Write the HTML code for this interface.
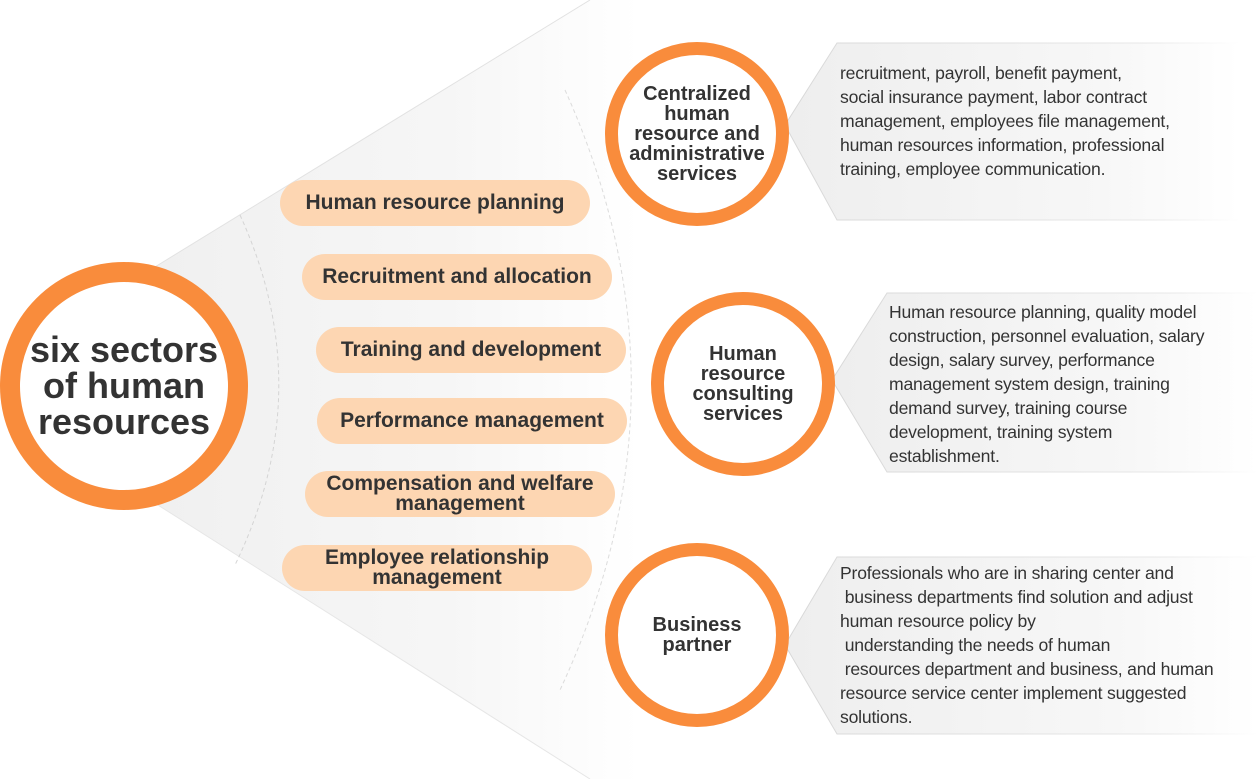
<!DOCTYPE html>
<html><head><meta charset="utf-8"><style>
body{margin:0;width:1258px;height:779px;overflow:hidden;background:#fff;font-family:"Liberation Sans",sans-serif}
.pill{position:absolute;height:46px;border-radius:23px;background:#fdd6b2;color:#333;font-weight:bold;font-size:21px;display:flex;align-items:center;justify-content:center;text-align:center;line-height:20px;width:310px}
.circ{position:absolute;border-radius:50%;border:13px solid #f98c3c;background:#fff;color:#333;font-weight:bold;display:flex;align-items:center;justify-content:center;text-align:center;box-sizing:border-box}
.txt{position:absolute;font-size:17.6px;line-height:24px;color:#333;white-space:pre;letter-spacing:-0.2px}
</style></head><body>
<svg width="1258" height="779" style="position:absolute;left:0;top:0">
<defs>
<linearGradient id="g" x1="0" x2="1" y1="0" y2="0"><stop offset="0" stop-color="#f0f0f0"/><stop offset="0.6" stop-color="#f6f6f6"/><stop offset="1" stop-color="#fff"/></linearGradient>
<linearGradient id="b" x1="0" x2="1" y1="0" y2="0"><stop offset="0" stop-color="#eeeeee"/><stop offset="0.7" stop-color="#f7f7f7"/><stop offset="1" stop-color="#fff"/></linearGradient>
<linearGradient id="s" x1="0" x2="1" y1="0" y2="0"><stop offset="0" stop-color="#d8d8d8"/><stop offset="0.8" stop-color="#e8e8e8"/><stop offset="1" stop-color="#fff"/></linearGradient>
</defs>
<polygon points="150,270 590,0 640,0 640,779 590,779 150,500" fill="url(#g)"/>
<line x1="150" y1="270" x2="590" y2="0" stroke="#e2e2e2"/>
<line x1="150" y1="500" x2="590" y2="779" stroke="#e6e6e6"/>
<path d="M240,215 Q320,390 235,565" fill="none" stroke="#d4d4d4" stroke-dasharray="4,3"/>
<path d="M565,90 Q700,390 560,690" fill="none" stroke="#dcdcdc" stroke-dasharray="4,3"/>
<polygon points="837,43 1240,43 1240,220 837,220 785,125" fill="url(#b)"/>
<polyline points="1240,43 837,43 785,125 837,220 1240,220" fill="none" stroke="url(#s)"/>
<polygon points="887,293 1258,293 1258,472 887,472 832,380" fill="url(#b)"/>
<polyline points="1258,293 887,293 832,380 887,472 1258,472" fill="none" stroke="url(#s)"/>
<polygon points="837,557 1258,557 1258,734 837,734 785,645" fill="url(#b)"/>
<polyline points="1258,557 837,557 785,645 837,734 1258,734" fill="none" stroke="url(#s)"/>
</svg>
<div class="circ" style="left:0;top:262px;width:248px;height:248px;border-width:20px;font-size:36px;line-height:36px">six sectors<br>of human<br>resources</div>
<div class="circ" style="left:605px;top:42px;width:184px;height:184px;font-size:20px;line-height:20px">Centralized<br>human<br>resource and<br>administrative<br>services</div>
<div class="circ" style="left:651px;top:292px;width:184px;height:184px;font-size:20px;line-height:20px">Human<br>resource<br>consulting<br>services</div>
<div class="circ" style="left:605px;top:543px;width:184px;height:184px;font-size:20px;line-height:20px">Business<br>partner</div>
<div class="pill" style="left:280px;top:180px">Human resource planning</div>
<div class="pill" style="left:302px;top:254px">Recruitment and allocation</div>
<div class="pill" style="left:316px;top:327px">Training and development</div>
<div class="pill" style="left:317px;top:398px">Performance management</div>
<div class="pill" style="left:305px;top:471px">Compensation and welfare<br>management</div>
<div class="pill" style="left:282px;top:545px">Employee relationship<br>management</div>
<div class="txt" style="left:840px;top:61px">recruitment, payroll, benefit payment,
social insurance payment, labor contract
management, employees file management,
human resources information, professional
training, employee communication.</div>
<div class="txt" style="left:889px;top:300px">Human resource planning, quality model
construction, personnel evaluation, salary
design, salary survey, performance
management system design, training
demand survey, training course
development, training system
establishment.</div>
<div class="txt" style="left:840px;top:561px">Professionals who are in sharing center and
 business departments find solution and adjust
human resource policy by
 understanding the needs of human
 resources department and business, and human
resource service center implement suggested
solutions.</div>
</body></html>
